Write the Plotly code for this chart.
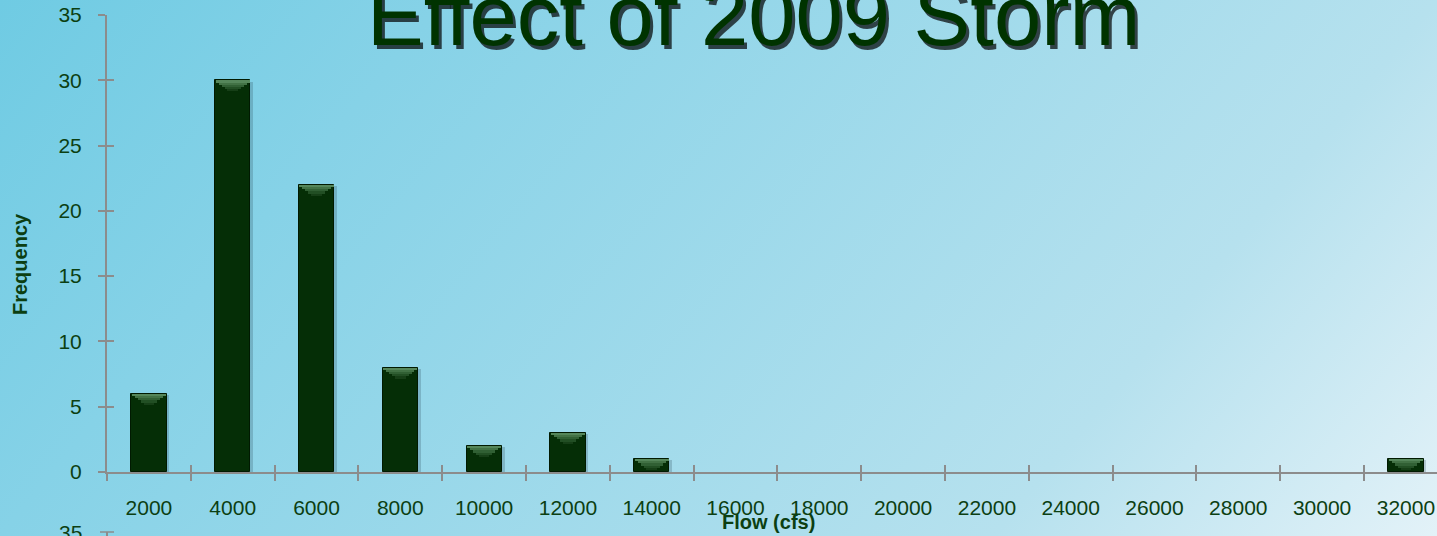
import base64
import plotly.graph_objects as go

# Histogram of peak flows
flow_bins = ["2000", "4000", "6000", "8000", "10000", "12000", "14000", "16000",
             "18000", "20000", "22000", "24000", "26000", "28000", "30000", "32000"]
frequency = [6, 30, 22, 8, 2, 3, 1, 0, 0, 0, 0, 0, 0, 0, 0, 1]
y_ticks = [0, 5, 10, 15, 20, 25, 30, 35]

W, H = 1437, 536
ML, MR, MT, MB = 107, 0, 15, 64
PW, PH = W - ML - MR, H - MT - MB


def px_x(px):
    return (px - ML) / PW


def px_y(py):
    return 1 - (py - MT) / PH


AXIS_GREY = "#8c8c8c"
LABEL = "#0c3f12"
BAR = "#052e06"
FONT = "Liberation Sans"
BAR_W = 0.42

# diagonal light-blue background
svg = f"""<svg xmlns='http://www.w3.org/2000/svg' width='{W}' height='{H}' viewBox='0 0 {W} {H}' preserveAspectRatio='none'>
<defs><linearGradient id='g' gradientUnits='userSpaceOnUse' x1='0' y1='0' x2='1254' y2='1038'>
<stop offset='0' stop-color='#6fcbe3'/>
<stop offset='0.21' stop-color='#86d2e7'/>
<stop offset='0.68' stop-color='#b6e1ee'/>
<stop offset='0.89' stop-color='#e3f2f8'/>
<stop offset='1' stop-color='#eef8fb'/>
</linearGradient></defs>
<rect width='{W}' height='{H}' fill='url(#g)'/></svg>"""
bg_src = "data:image/svg+xml;base64," + base64.b64encode(svg.encode()).decode()

nz_x = [c for c, v in zip(flow_bins, frequency) if v > 0]
nz_v = [v for v in frequency if v > 0]

fig = go.Figure()

# soft drop shadow behind each bar
fig.add_trace(go.Bar(
    x=nz_x, y=[v + 0.1 for v in nz_v], base=-0.2,
    width=BAR_W, offset=-BAR_W / 2 + 0.035,
    marker=dict(color="rgba(30,60,75,0.22)", line=dict(width=0)),
    cliponaxis=False, hoverinfo="skip", showlegend=False,
))

# bar bodies (no outline on empty bins)
fig.add_trace(go.Bar(
    x=flow_bins, y=frequency, width=BAR_W,
    marker=dict(color=BAR, line=dict(color="#011a01",
                                     width=[1 if v > 0 else 0 for v in frequency])),
    showlegend=False, name="Frequency",
))

# bevelled top of each bar: stacked strips narrowing downwards
cap_colors = ["#55865a", "#427245", "#316034", "#224f24", "#163f17"]
strip = 0.17
for k, col in enumerate(cap_colors):
    wk = BAR_W * (1 - 0.17 * k) - 0.01
    fig.add_trace(go.Bar(
        x=nz_x, y=[strip] * len(nz_v), base=[v - (k + 1) * strip for v in nz_v],
        width=wk, marker=dict(color=col, line=dict(width=0)),
        hoverinfo="skip", showlegend=False,
    ))

# helper trace that carries the inward half of the crossing tick marks
fig.add_trace(go.Scatter(
    x=flow_bins, y=frequency, mode="markers", marker=dict(opacity=0),
    xaxis="x2", yaxis="y2", hoverinfo="skip", showlegend=False,
))

x_range = [-0.5, 15.371]
tick_font = dict(family=FONT, size=21, color=LABEL)

fig.update_layout(
    width=W, height=H,
    margin=dict(l=ML, r=MR, t=MT, b=MB, pad=0),
    paper_bgcolor="#a8dced",
    plot_bgcolor="rgba(0,0,0,0)",
    barmode="overlay",
    bargap=0,
    images=[dict(source=bg_src, xref="paper", yref="paper",
                 x=px_x(0), y=px_y(0), sizex=W / PW, sizey=H / PH,
                 xanchor="left", yanchor="top", sizing="stretch",
                 layer="below", opacity=1)],
    xaxis=dict(
        type="category", categoryorder="array", categoryarray=flow_bins,
        range=x_range, showline=True, linecolor=AXIS_GREY, linewidth=2,
        ticks="outside", ticklen=7, tickwidth=1.5, tickcolor=AXIS_GREY,
        tickson="boundaries", tickfont=tick_font, ticklabelstandoff=16,
        showgrid=False, zeroline=False, fixedrange=True,
    ),
    yaxis=dict(
        range=[0, 35], tickvals=y_ticks, showline=True, linecolor=AXIS_GREY,
        linewidth=2, ticks="outside", ticklen=7, tickwidth=1.5,
        tickcolor=AXIS_GREY, tickfont=tick_font, ticklabelstandoff=12,
        showgrid=False, zeroline=False, fixedrange=True,
    ),
    xaxis2=dict(
        overlaying="x", anchor="y2", side="bottom", type="category",
        categoryorder="array", categoryarray=flow_bins, range=x_range,
        ticks="inside", ticklen=7, tickwidth=1.5, tickcolor=AXIS_GREY,
        tickson="boundaries", showticklabels=False, showline=False,
        showgrid=False, zeroline=False, fixedrange=True,
    ),
    yaxis2=dict(
        overlaying="y", anchor="x2", side="left", range=[0, 35],
        tickvals=y_ticks, ticks="inside", ticklen=7, tickwidth=1.5,
        tickcolor=AXIS_GREY, showticklabels=False, showline=False,
        showgrid=False, zeroline=False, fixedrange=True,
    ),
    showlegend=False,
)

title_text = "Effect of 2009 Storm"
title_x, title_y = px_x(753), px_y(15)
fig.add_annotation(text=title_text, xref="paper", yref="paper", x=title_x, y=title_y,
                   xanchor="center", yanchor="middle", showarrow=False,
                   xshift=3, yshift=-4,
                   font=dict(family=FONT, size=85, color="rgba(0,0,0,0.7)"))
fig.add_annotation(text=title_text, xref="paper", yref="paper", x=title_x, y=title_y,
                   xanchor="center", yanchor="middle", showarrow=False,
                   font=dict(family=FONT, size=85, color="#003300"))

fig.add_annotation(text="<b>Frequency</b>", xref="paper", yref="paper",
                   x=px_x(20), y=px_y(264), textangle=-90, showarrow=False,
                   xanchor="center", yanchor="middle",
                   font=dict(family=FONT, size=20, color=LABEL))
fig.add_annotation(text="<b>Flow (cfs)</b>", xref="paper", yref="paper",
                   x=px_x(768), y=px_y(522), showarrow=False,
                   xanchor="center", yanchor="middle",
                   font=dict(family=FONT, size=20, color=LABEL))

# top of the next chart's frequency axis, just below this one
fig.add_annotation(text="35", xref="paper", yref="paper",
                   x=px_x(84), y=px_y(532), showarrow=False,
                   xanchor="right", yanchor="middle",
                   font=tick_font)
fig.add_shape(type="line", xref="paper", yref="paper",
              x0=px_x(100), x1=px_x(114), y0=px_y(532), y1=px_y(532),
              line=dict(color=AXIS_GREY, width=1.5))
fig.add_shape(type="line", xref="paper", yref="paper",
              x0=px_x(107), x1=px_x(107), y0=px_y(532), y1=px_y(545),
              line=dict(color=AXIS_GREY, width=2))

fig.write_html("out.html")
